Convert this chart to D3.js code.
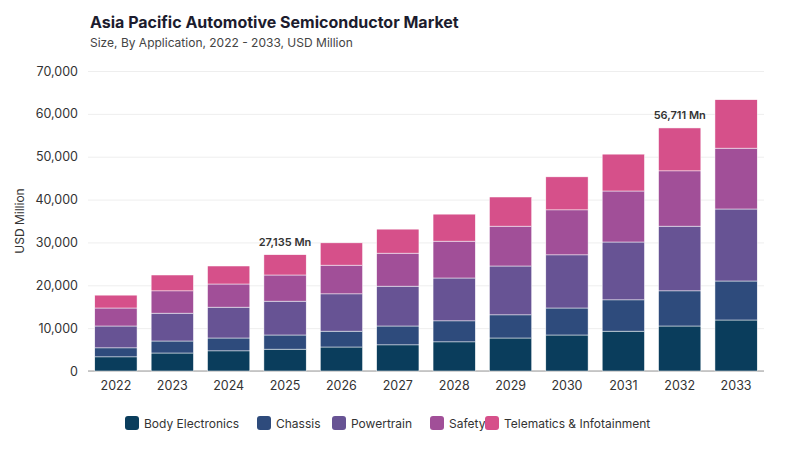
<!DOCTYPE html>
<html><head><meta charset="utf-8">
<script src="https://cdn.jsdelivr.net/npm/d3@7"></script>
<style>body{margin:0;background:#fff;font-family:Inter,"Noto Sans",sans-serif}</style>
</head><body><svg id="c" width="800" height="450"></svg>
<script>
var years = ["2022","2023","2024","2025","2026","2027","2028","2029","2030","2031","2032","2033"];
var seriesNames = ["Body Electronics","Chassis","Powertrain","Safety","Telematics & Infotainment"];
var bodyElectronics = [3300,4200,4700,5100,5600,6100,6800,7700,8400,9300,10500,11900];
var chassis = [2100,2800,3000,3300,3700,4400,4900,5400,6300,7300,8200,9100];
var powertrain = [5100,6500,7200,7900,8700,9300,10000,11400,12400,13500,15100,16800];
var safety = [4200,5200,5400,6100,6700,7700,8600,9300,10500,11900,12900,14200];
var telematics = [3000,3700,4200,4735,5200,5600,6300,6800,7700,8600,10011,11300];
var labels = {"2025":"27,135 Mn","2032":"56,711 Mn"};
var colors = ["#0a3d5c","#2e4b7c","#675394","#a14f98","#d6508a"];

var svg = d3.select("#c");
var m = {l:88,r:36,t:71,b:79};
var W = 800, H = 450;
var x = d3.scaleBand().domain(years).range([m.l, W-m.r]).paddingInner(0.25).paddingOuter(0.12);
var y = d3.scaleLinear().domain([0,70000]).range([H-m.b, m.t]);

var rows = years.map(function(yr,i){
  return {year:yr, s0:bodyElectronics[i], s1:chassis[i], s2:powertrain[i], s3:safety[i], s4:telematics[i]};
});
var stack = d3.stack().keys(["s0","s1","s2","s3","s4"])(rows);

svg.append("text").attr("x",90).attr("y",28).attr("font-size",16).attr("font-weight",700).attr("fill","#1c1c2e").text("Asia Pacific Automotive Semiconductor Market");
svg.append("text").attr("x",90).attr("y",47).attr("font-size",12).attr("fill","#444").text("Size, By Application, 2022 - 2033, USD Million");

var ya = svg.append("g").attr("transform","translate("+m.l+",0)")
  .call(d3.axisLeft(y).tickValues(d3.range(0,70001,10000)).tickFormat(d3.format(",")).tickSize(-(W-m.l-m.r)).tickPadding(10));
ya.select(".domain").remove();
ya.selectAll("line").attr("stroke","#eee");
ya.selectAll("text").attr("font-size",12.5).attr("fill","#333").attr("font-family","Inter,sans-serif");

svg.append("line").attr("x1",m.l).attr("x2",W-m.r).attr("y1",y(0)).attr("y2",y(0)).attr("stroke","#999");
var xa = svg.append("g").attr("transform","translate(0,"+y(0)+")").call(d3.axisBottom(x).tickSize(0).tickPadding(10));
xa.select(".domain").remove();
xa.selectAll("text").attr("font-size",12.5).attr("fill","#333").attr("font-family","Inter,sans-serif");

svg.append("text").attr("transform","translate(24,"+((m.t+y(0))/2)+") rotate(-90)").attr("text-anchor","middle")
  .attr("font-size",12).attr("fill","#333").text("USD Million");

svg.selectAll("g.layer").data(stack).enter().append("g").attr("fill",function(d,i){return colors[i];})
  .selectAll("rect").data(function(d){return d;}).enter().append("rect")
  .attr("x",function(d){return x(d.data.year);}).attr("width",x.bandwidth())
  .attr("y",function(d){return y(d[1]);}).attr("height",function(d){return y(d[0])-y(d[1]);})
  .attr("stroke","#fff").attr("stroke-width",0.5);

years.forEach(function(yr,i){
  if(!labels[yr]) return;
  var tot = bodyElectronics[i]+chassis[i]+powertrain[i]+safety[i]+telematics[i];
  svg.append("text").attr("x",x(yr)+x.bandwidth()/2).attr("y",y(tot)-9).attr("text-anchor","middle")
    .attr("font-size",11).attr("font-weight",600).attr("fill","#333").text(labels[yr]);
});

var lg = svg.append("g").attr("transform","translate(125,423)");
var offs = [0,132,207,305,360];
seriesNames.forEach(function(n,i){
  var g = lg.append("g").attr("transform","translate("+offs[i]+",0)");
  g.append("rect").attr("x",0).attr("y",-7).attr("width",14).attr("height",14).attr("rx",3).attr("fill",colors[i]);
  g.append("text").attr("x",19).attr("y",4.5).attr("font-size",12).attr("fill","#333").text(n);
});
</script></body></html>
